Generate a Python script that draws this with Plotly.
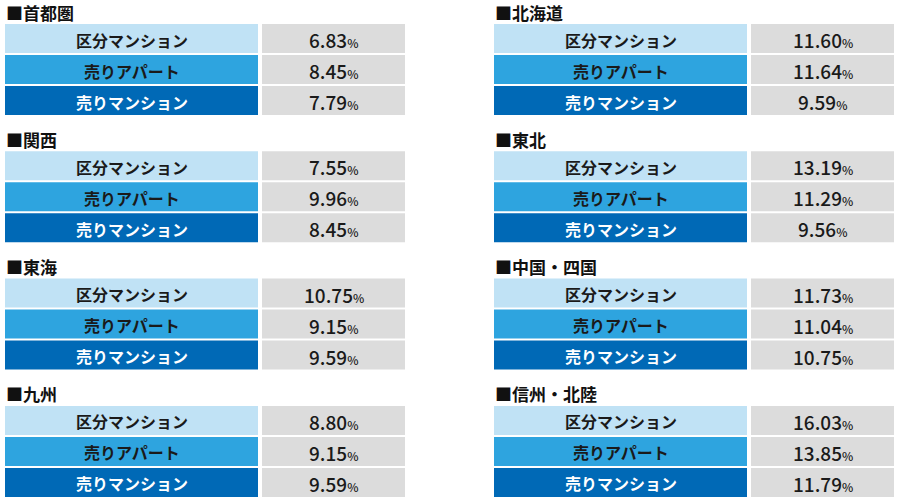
import plotly.graph_objects as go

# regions in reading order: left column top->bottom, then right column
regions_left = ["首都圏", "関西", "東海", "九州"]
regions_right = ["北海道", "東北", "中国・四国", "信州・北陸"]
categories = ["区分マンション", "売りアパート", "売りマンション"]

# 表面利回り (%)
yield_left = [
    [6.83, 8.45, 7.79],
    [7.55, 9.96, 8.45],
    [10.75, 9.15, 9.59],
    [8.80, 9.15, 9.59],
]
yield_right = [
    [11.60, 11.64, 9.59],
    [13.19, 11.29, 9.56],
    [11.73, 11.04, 10.75],
    [16.03, 13.85, 11.79],
]

cat_colors = ["#c0e2f5", "#2ea4df", "#0069b6"]
cat_text_colors = ["#1a1a1a", "#1a1a1a", "#ffffff"]
grey = "#dcdcdc"
font_jp = "Noto Sans CJK JP"

# layout of the blocks (pixel units on the axes)
col_x = [5, 494]
label_w = 253
value_x0 = 257  # offset from col start
value_w = 143
first_row_y = 24
block_step = 127.3
row_pitch = 31
row_h = 29

fig = go.Figure()
shapes = []
annotations = []

for col, (regions, values) in enumerate([(regions_left, yield_left), (regions_right, yield_right)]):
    x0 = col_x[col]
    for b, region in enumerate(regions):
        top = first_row_y + b * block_step
        annotations.append(dict(
            x=x0 - 1, y=top - 12, xref="x", yref="y", text="■" + region,
            showarrow=False, xanchor="left", yanchor="middle",
            font=dict(family=font_jp, size=17, color="#111111", weight=700)))
        for r, cat in enumerate(categories):
            y0 = top + r * row_pitch
            shapes.append(dict(type="rect", xref="x", yref="y", x0=x0, x1=x0 + label_w,
                               y0=y0, y1=y0 + row_h, fillcolor=cat_colors[r], line_width=0, layer="below"))
            shapes.append(dict(type="rect", xref="x", yref="y", x0=x0 + value_x0, x1=x0 + value_x0 + value_w,
                               y0=y0, y1=y0 + row_h, fillcolor=grey, line_width=0, layer="below"))
            annotations.append(dict(
                x=x0 + label_w / 2, y=y0 + row_h / 2 + 1, xref="x", yref="y", text=cat,
                showarrow=False, xanchor="center", yanchor="middle",
                font=dict(family=font_jp, size=16, color=cat_text_colors[r], weight=700)))
            v = values[b][r]
            annotations.append(dict(
                x=x0 + value_x0 + value_w / 2, y=y0 + row_h / 2 + 1, xref="x", yref="y",
                text=f"{v:.2f}<span style='font-size:12px'>%</span>",
                showarrow=False, xanchor="center", yanchor="middle",
                font=dict(family=font_jp, size=19, color="#1a1a1a", weight=500)))

# invisible trace so the axes exist
fig.add_trace(go.Scatter(x=[0, 900], y=[0, 499], mode="markers", marker=dict(opacity=0),
                         hoverinfo="skip", showlegend=False))

fig.update_layout(
    width=900, height=499,
    margin=dict(l=0, r=0, t=0, b=0),
    plot_bgcolor="white", paper_bgcolor="white",
    shapes=shapes, annotations=annotations,
    xaxis=dict(range=[0, 900], visible=False, fixedrange=True),
    yaxis=dict(range=[499, 0], visible=False, fixedrange=True),
    showlegend=False,
)

# page body has a default 8px margin, drop it so the figure fills the window
fig.write_html("out.html", config={"displayModeBar": False},
               post_script="document.body.style.margin='0';document.body.style.overflow='hidden';")
